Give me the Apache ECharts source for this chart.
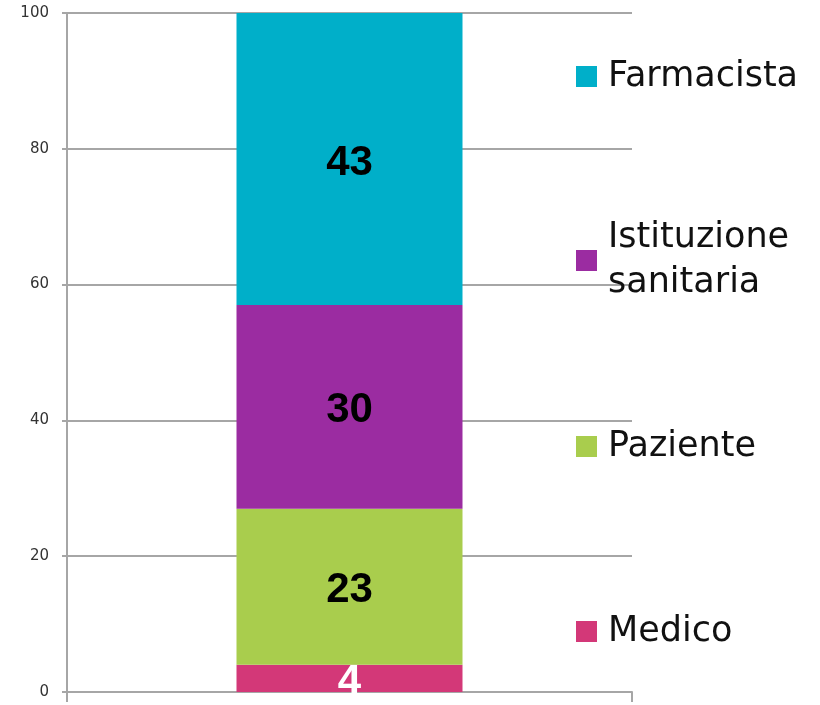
<!DOCTYPE html>
<html>
<head>
<meta charset="utf-8">
<script src="https://cdn.jsdelivr.net/npm/echarts@6/dist/echarts.min.js"></script>
<style>
  html, body { margin: 0; padding: 0; background: #fff; }
  #container { width: 820px; height: 705px; }
</style>
</head>
<body>
<div id="container"></div>
<script>
var categories = [''];
var seriesNames = ['Medico', 'Paziente', 'Istituzione sanitaria', 'Farmacista'];
var seriesValues = [[4], [23], [30], [43]];
var seriesColors = ['#D33878', '#A9CD4D', '#9B2CA1', '#00AFC9'];
var labelColors = ['#ffffff', '#000000', '#000000', '#000000'];
var yTicks = [0, 20, 40, 60, 80, 100];

var dom = document.getElementById('container');
var myChart = echarts.init(dom, null, { renderer: 'canvas' });

var gridColor = '#a6a6a6';

// one legend per item so each can sit where the original puts it
var legendTops = [609, 424, 193, 54];
var legends = seriesNames.map(function (name, i) {
  var twoLines = name === 'Istituzione sanitaria';
  return {
    data: [name],
    orient: 'vertical',
    left: 576,
    top: legendTops[i],
    padding: 0,
    icon: 'rect',
    itemWidth: 21,
    itemHeight: 21,
    selectedMode: false,
    formatter: function (n) {
      return n.replace(' ', '\n');
    },
    textStyle: {
      fontFamily: 'DejaVu Sans',
      fontSize: 35,
      color: '#111',
      lineHeight: 45,
      // push the text so the icon sits next to the first line
      padding: twoLines ? [45, 0, 0, 6] : [0, 0, 0, 6]
    }
  };
});

var series = seriesNames.map(function (name, i) {
  return {
    name: name,
    type: 'bar',
    stack: 'total',
    barWidth: '40%',
    data: seriesValues[i],
    itemStyle: { color: seriesColors[i] },
    label: {
      show: true,
      position: 'inside',
      offset: [0, 4],
      color: labelColors[i],
      fontFamily: 'Liberation Sans',
      fontWeight: 'bold',
      fontSize: 42
    }
  };
});

var option = {
  animation: false,
  backgroundColor: '#ffffff',
  grid: { left: 67, right: 188, top: 13, bottom: 13, containLabel: false },
  legend: legends,
  xAxis: {
    type: 'category',
    data: categories,
    axisLine: { lineStyle: { color: gridColor, width: 2 } },
    axisTick: {
      show: true,
      length: 10,
      interval: function (index) { return index === 0; },
      lineStyle: { color: gridColor, width: 2 }
    },
    axisLabel: { show: false }
  },
  yAxis: {
    type: 'value',
    min: yTicks[0],
    max: yTicks[yTicks.length - 1],
    interval: yTicks[1] - yTicks[0],
    axisLine: { show: true, lineStyle: { color: gridColor, width: 2 } },
    axisTick: { show: true, length: 5, lineStyle: { color: gridColor, width: 2 } },
    axisLabel: {
      margin: 18,
      fontFamily: 'DejaVu Sans',
      fontSize: 15,
      color: '#333'
    },
    splitLine: { lineStyle: { color: gridColor, width: 2 } }
  },
  series: series
};

myChart.setOption(option);
window.addEventListener('resize', myChart.resize);
</script>
</body>
</html>
